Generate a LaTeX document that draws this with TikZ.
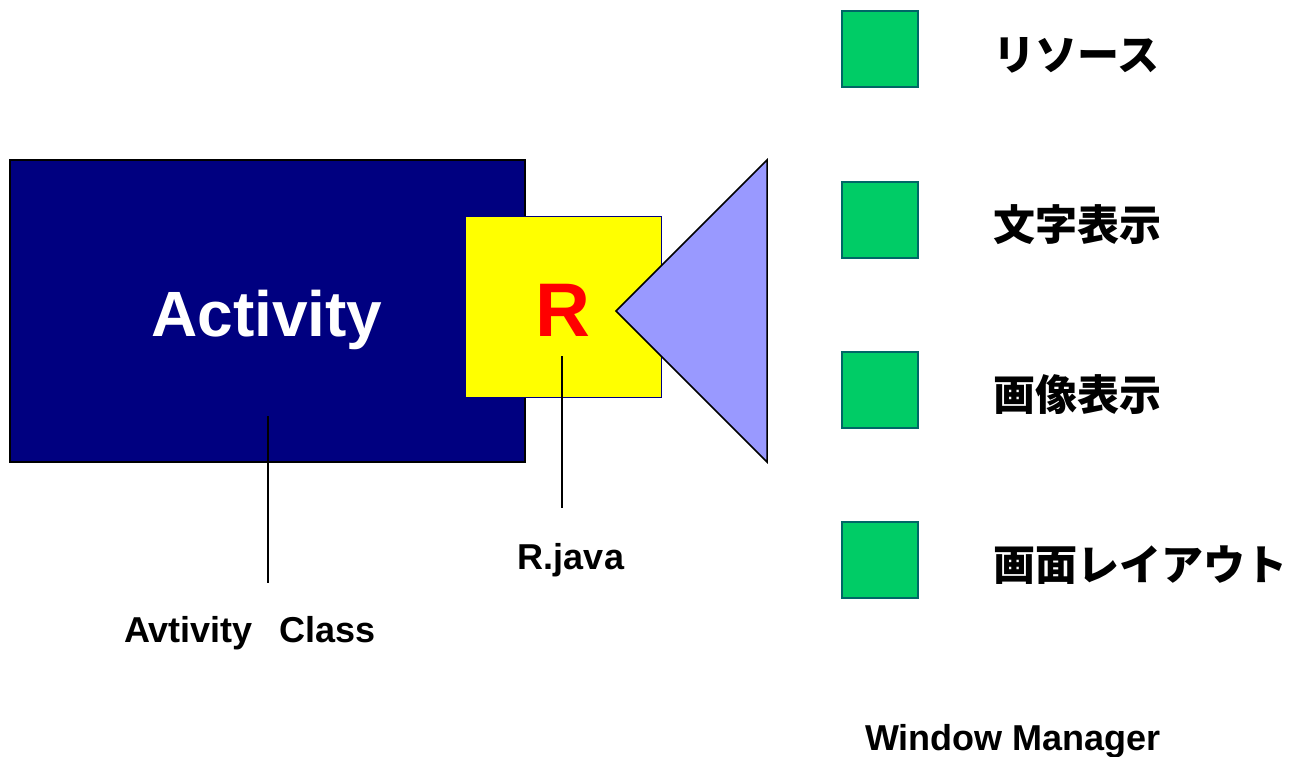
\documentclass[tikz,border=0pt]{standalone}
\usepackage{fontspec}
\setmainfont{Liberation Sans}
\newfontfamily\jp{Noto Sans CJK JP}
\definecolor{actblue}{RGB}{0,0,128}
\definecolor{ryellow}{RGB}{255,255,0}
\definecolor{trifill}{RGB}{153,153,255}
\definecolor{gfill}{RGB}{0,204,102}
\definecolor{gdraw}{RGB}{0,102,102}
\begin{document}
\begin{tikzpicture}[x=1pt,y=-1pt,
  greenbox/.style={draw=gdraw,line width=1.3pt,fill=gfill,minimum width=76pt,minimum height=76pt,inner sep=0pt,outer sep=0pt,anchor=north west},
  jplabel/.style={anchor=west,inner sep=0pt,font=\jp\bfseries\fontsize{42}{42}\selectfont},
  smalllabel/.style={anchor=base,inner sep=0pt,font=\bfseries\fontsize{36}{36}\selectfont},
  pin/.style={line width=1.2pt,black}]
\useasboundingbox (0,0) rectangle (1293,756);
% Activity box
\node[draw=black,line width=1.5pt,fill=actblue,minimum width=515pt,minimum height=302pt,inner sep=0pt,outer sep=0pt,anchor=north west] (act) at (10,160) {};
\node[text=white,anchor=base,inner sep=0pt,font=\bfseries\fontsize{64}{64}\selectfont] (acttext) at (267,336) {Activity};
% R box
\node[draw=actblue,line width=1pt,fill=ryellow,minimum width=196pt,minimum height=181pt,inner sep=0pt,outer sep=0pt,anchor=north west] (rbox) at (465,216) {};
\node[text=red,anchor=base,inner sep=0pt,font=\bfseries\fontsize{76}{76}\selectfont] (rtext) at (563,336) {R};
% triangle
\coordinate (trapex) at (616,311);
\coordinate (trtop) at (767,160);
\coordinate (trbot) at (767,462);
\draw[line width=1.5pt,fill=trifill,line join=miter] (trapex) -- (trtop) -- (trbot) -- cycle;
% pins
\coordinate (actpin) at (268,416);
\coordinate (actpinend) at (268,583);
\draw[pin] (actpin) -- (actpinend);
\coordinate (rpin) at (562,356);
\coordinate (rpinend) at (562,508);
\draw[pin] (rpin) -- (rpinend);
% labels
\node[smalllabel] (actlabel) at (250,642) {Avtivity\hspace{0.75em}Class};
\node[smalllabel] (rlabel) at (571,569) {R.java};
\node[smalllabel] (wmlabel) at (1013,750) {Window Manager};
% green legend
\node[greenbox] (g1) at (842,11) {};
\node[greenbox] (g2) at (842,182) {};
\node[greenbox] (g3) at (842,352) {};
\node[greenbox] (g4) at (842,522) {};
\node[jplabel] (t1) at (993,55) {リソース};
\node[jplabel] (t2) at (993,225) {文字表示};
\node[jplabel] (t3) at (993,395) {画像表示};
\node[jplabel] (t4) at (993,565) {画面レイアウト};
\end{tikzpicture}
\end{document}
